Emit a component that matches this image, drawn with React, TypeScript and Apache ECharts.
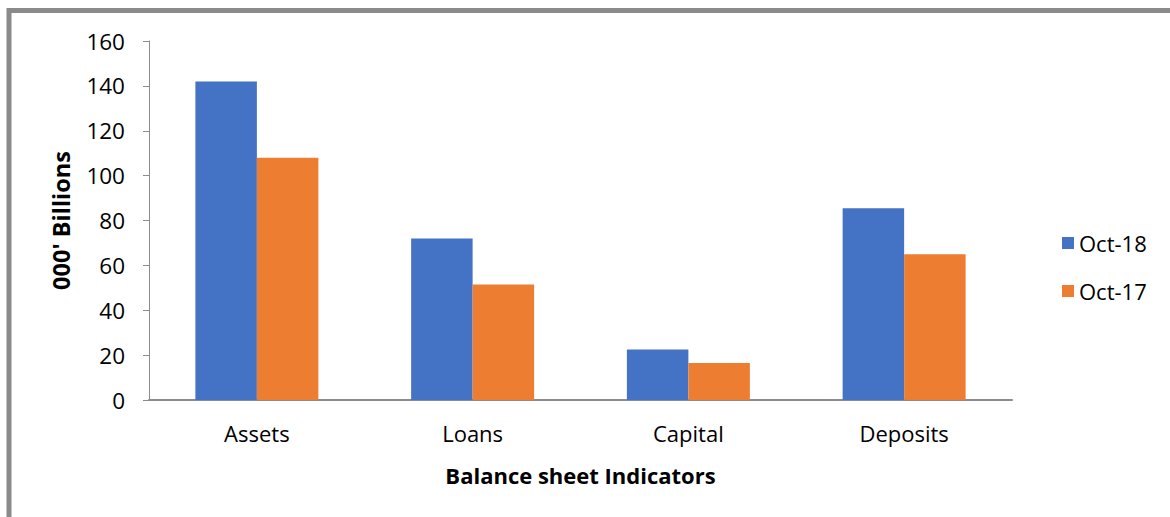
import React, { useEffect, useRef } from "react";
import * as echarts from "echarts";

const categories = ["Assets", "Loans", "Capital", "Deposits"];
const oct18 = [142, 72, 22.5, 85.5];
const oct17 = [108, 51.5, 16.5, 65];
const seriesNames = ["Oct-18", "Oct-17"];
const yTicks = { min: 0, max: 160, interval: 20 };
const xAxisTitle = "Balance sheet Indicators";
const yAxisTitle = "000' Billions";

const FONT = "'Open Sans', sans-serif";

export default function App() {
  const ref = useRef<HTMLDivElement>(null);
  useEffect(() => {
    document.body.style.margin = "0";
    const chart = echarts.init(ref.current!, null, { renderer: "svg" });
    chart.setOption({
      animation: false,
      backgroundColor: "#ffffff",
      textStyle: { fontFamily: FONT },
      graphic: [
        {
          type: "rect",
          shape: { x: 9, y: 10.5, width: 1300, height: 700 },
          style: { fill: "none", stroke: "#8a8a8a", lineWidth: 5 },
          silent: true,
          z: 100,
        },
      ],
      grid: { left: 149, top: 41, right: 158, bottom: 117, containLabel: false },
      legend: {
        orient: "vertical",
        left: 1057,
        top: 226,
        itemWidth: 12,
        itemHeight: 12,
        itemGap: 24,
        icon: "rect",
        textStyle: { fontFamily: FONT, fontSize: 22, color: "#000", lineHeight: 24, padding: [0, 0, 0, 0] },
        data: seriesNames,
      },
      xAxis: {
        type: "category",
        data: categories,
        name: xAxisTitle,
        nameLocation: "middle",
        nameGap: 64,
        nameTextStyle: { fontFamily: FONT, fontSize: 22, fontWeight: "bold", color: "#000" },
        axisLine: { lineStyle: { color: "#8c8c8c", width: 2 } },
        axisTick: { show: false },
        axisLabel: { fontFamily: FONT, fontSize: 22, color: "#000", margin: 22 },
      },
      yAxis: {
        type: "value",
        min: yTicks.min,
        max: yTicks.max,
        interval: yTicks.interval,
        name: yAxisTitle,
        nameLocation: "middle",
        nameRotate: 90,
        nameGap: 76,
        nameTextStyle: { fontFamily: FONT, fontSize: 23.5, fontWeight: "bold", color: "#000" },
        axisLine: { show: true, lineStyle: { color: "#8c8c8c", width: 1 } },
        axisTick: { show: true, length: 6, lineStyle: { color: "#8c8c8c" } },
        splitLine: { show: false },
        axisLabel: { fontFamily: FONT, fontSize: 22.5, color: "#000", margin: 24 },
      },
      series: [
        {
          name: seriesNames[0],
          type: "bar",
          data: oct18,
          barGap: "0%",
          barCategoryGap: "43%",
          itemStyle: { color: "#4472C4" },
        },
        {
          name: seriesNames[1],
          type: "bar",
          data: oct17,
          barGap: "0%",
          barCategoryGap: "43%",
          itemStyle: { color: "#ED7D31" },
        },
      ],
    });
    return () => chart.dispose();
  }, []);
  return (
    <div
      ref={ref}
      style={{ position: "fixed", left: 0, top: 0, width: 1170, height: 517 }}
    />
  );
}
